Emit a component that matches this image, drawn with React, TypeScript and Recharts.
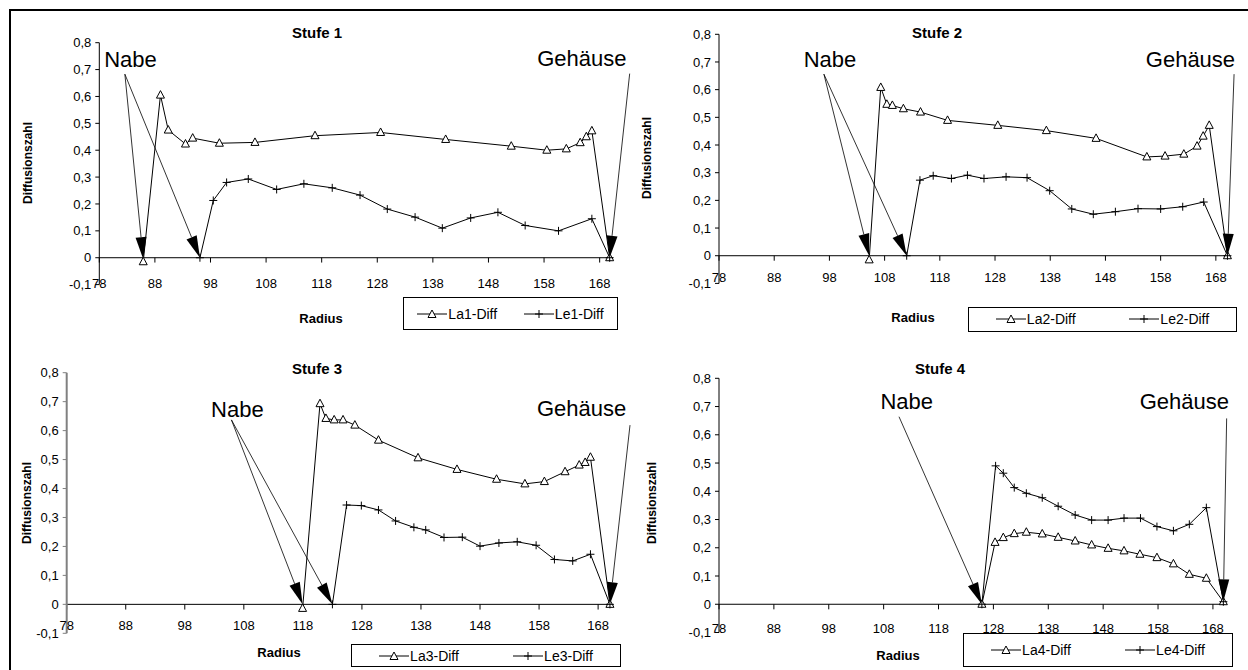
import { LineChart, Line, XAxis, YAxis, ReferenceLine, ReferenceDot, Legend } from 'recharts';

const radiusTicks = [78, 88, 98, 108, 118, 128, 138, 148, 158, 168];
const diffTicks = [-0.1, 0, 0.1, 0.2, 0.3, 0.4, 0.5, 0.6, 0.7, 0.8];

// Stufe 1
const la1Radius = [85.9, 89.0, 90.4, 93.5, 94.8, 99.6, 106.0, 116.8, 128.6, 140.3, 152.1, 158.5, 162.0, 164.5, 165.6, 166.6, 169.8];
const la1Diff = [-0.015, 0.605, 0.475, 0.423, 0.445, 0.426, 0.429, 0.454, 0.466, 0.44, 0.415, 0.4, 0.405, 0.428, 0.45, 0.472, 0];
const le1Radius = [96.1, 98.5, 100.9, 104.8, 109.9, 114.8, 119.9, 124.9, 129.8, 134.8, 139.7, 144.8, 149.7, 154.6, 160.6, 166.6, 169.8];
const le1Diff = [0, 0.213, 0.28, 0.293, 0.254, 0.275, 0.26, 0.233, 0.181, 0.151, 0.11, 0.148, 0.169, 0.12, 0.1, 0.145, 0];

// Stufe 2
const la2Radius = [105.2, 107.3, 108.4, 109.4, 111.4, 114.5, 119.4, 128.5, 137.3, 146.3, 155.5, 158.8, 162.2, 164.6, 165.7, 166.8, 170.1];
const la2Diff = [-0.015, 0.608, 0.547, 0.543, 0.531, 0.519, 0.489, 0.471, 0.452, 0.424, 0.357, 0.36, 0.367, 0.396, 0.432, 0.471, 0];
const le2Radius = [112.0, 114.4, 116.8, 120.1, 123.0, 126.0, 130.0, 133.8, 137.9, 141.9, 145.8, 149.8, 153.9, 158.0, 162.0, 165.8, 170.1];
const le2Diff = [0, 0.273, 0.289, 0.279, 0.291, 0.279, 0.285, 0.282, 0.235, 0.169, 0.15, 0.159, 0.17, 0.169, 0.177, 0.194, 0];

// Stufe 3
const la3Radius = [117.95, 120.9, 121.9, 123.3, 124.8, 126.8, 130.8, 137.5, 144.1, 150.8, 155.6, 158.9, 162.4, 164.8, 165.8, 166.7, 170.0];
const la3Diff = [-0.014, 0.693, 0.642, 0.637, 0.637, 0.619, 0.567, 0.506, 0.466, 0.432, 0.416, 0.424, 0.458, 0.481, 0.49, 0.508, 0];
const le3Radius = [123.0, 125.4, 127.9, 130.8, 133.7, 136.8, 138.8, 141.9, 145.0, 148.0, 151.2, 154.3, 157.5, 160.6, 163.7, 166.7, 170.0];
const le3Diff = [0, 0.343, 0.341, 0.326, 0.288, 0.266, 0.257, 0.231, 0.232, 0.201, 0.212, 0.216, 0.204, 0.155, 0.15, 0.173, 0];

// Stufe 4
const la4Radius = [125.9, 128.3, 129.8, 131.8, 134.0, 136.9, 139.8, 142.9, 145.9, 148.9, 151.8, 154.7, 157.8, 160.8, 163.7, 166.8, 169.9];
const la4Diff = [0, 0.219, 0.236, 0.25, 0.255, 0.249, 0.237, 0.224, 0.21, 0.198, 0.189, 0.177, 0.165, 0.143, 0.106, 0.092, 0.009];
const le4Radius = [125.9, 128.4, 129.8, 131.8, 134.0, 136.9, 139.8, 142.9, 145.9, 148.9, 151.8, 154.8, 157.8, 160.8, 163.7, 166.8, 169.9];
const le4Diff = [0, 0.49, 0.464, 0.413, 0.393, 0.377, 0.347, 0.316, 0.298, 0.298, 0.305, 0.305, 0.275, 0.26, 0.283, 0.342, 0.009];

const FONT = '"Liberation Sans", Arial, sans-serif';
const Y_AXIS_W = 45;
const X_AXIS_H = 20;

const toPoints = (xs: number[], ys: number[]) => xs.map((x, i) => ({ x, y: ys[i] }));

const fmtDiff = (v: number) => (v === 0 ? '0' : v.toFixed(1).replace('.', ','));

function triangleDot(p: any) {
  const { cx, cy, index } = p;
  if (cx == null || cy == null) return <g key={`t${index}`} />;
  return (
    <polygon
      key={`t${index}`}
      points={`${cx},${cy - 4.5} ${cx - 4},${cy + 3} ${cx + 4},${cy + 3}`}
      fill="#fff"
      stroke="#000"
      strokeWidth={1}
    />
  );
}

function plusDot(p: any) {
  const { cx, cy, index } = p;
  if (cx == null || cy == null) return <g key={`p${index}`} />;
  return (
    <path key={`p${index}`} d={`M${cx - 4},${cy}H${cx + 4}M${cx},${cy - 4}V${cy + 4}`} stroke="#000" strokeWidth={1} />
  );
}

function arrowShape(props: any) {
  const { x1, y1, x2, y2 } = props;
  const dx = x2 - x1;
  const dy = y2 - y1;
  const len = Math.hypot(dx, dy) || 1;
  const ux = dx / len;
  const uy = dy / len;
  const bx = x2 - ux * 22;
  const by = y2 - uy * 22;
  const px = -uy * 5.5;
  const py = ux * 5.5;
  return (
    <g>
      <line x1={x1} y1={y1} x2={bx} y2={by} stroke="#000" strokeWidth={0.8} />
      <polygon points={`${x2},${y2} ${bx + px},${by + py} ${bx - px},${by - py}`} fill="#000" />
    </g>
  );
}

const textShape = (txt: string) => (p: any) => (
  <text x={p.cx} y={p.cy} textAnchor="middle" dy="0.35em" fontSize={22} fontFamily={FONT} fill="#000">
    {txt}
  </text>
);

const xTick = (off: number) => (p: any) => (
  <text x={p.x} y={p.y + off} dy="0.35em" textAnchor="middle" fontSize={13} fontFamily={FONT} fill="#000">
    {p.payload.value}
  </text>
);

function LegendSymbol({ marker }: { marker: 'tri' | 'plus' }) {
  return (
    <svg width={30} height={12} style={{ display: 'block' }}>
      <line x1={0} y1={6} x2={30} y2={6} stroke="#000" strokeWidth={1} />
      {marker === 'tri' ? triangleDot({ cx: 15, cy: 6.5, index: 0 }) : plusDot({ cx: 15, cy: 6, index: 0 })}
    </svg>
  );
}

type Arrow = { from: [number, number]; to: [number, number] };
type Note = { text: string; at: [number, number]; arrows: Arrow[] };

type PanelDef = {
  title: string;
  la: { name: string; xs: number[]; ys: number[] };
  le: { name: string; xs: number[]; ys: number[] };
  box: { left: number; top: number; width: number; height: number };
  plot: { left: number; top: number; right: number; bottom: number };
  xMax: number;
  tickOff: number;
  yAxisColor: string;
  yAxisWidth: number;
  notes: Note[];
  titlePos: [number, number];
  yLabelPos: [number, number];
  xLabelPos: [number, number];
  legend: { left: number; top: number; width: number; height: number };
};

const panels: PanelDef[] = [
  {
    title: 'Stufe 1',
    la: { name: 'La1-Diff', xs: la1Radius, ys: la1Diff },
    le: { name: 'Le1-Diff', xs: le1Radius, ys: le1Diff },
    box: { left: 10, top: 10, width: 650, height: 325 },
    plot: { left: 99.3, top: 42.7, right: 613, bottom: 284.6 },
    xMax: 170.4,
    tickOff: -1.3,
    yAxisColor: '#000',
    yAxisWidth: 1,
    notes: [
      { text: 'Nabe', at: [83.6, 0.738], arrows: [{ from: [82.6, 0.683], to: [85.9, -0.005] }, { from: [82.6, 0.683], to: [96.1, 0] }] },
      { text: 'Gehäuse', at: [164.8, 0.742], arrows: [{ from: [173.4, 0.685], to: [169.8, 0] }] },
    ],
    titlePos: [317, 32],
    yLabelPos: [28, 163],
    xLabelPos: [321, 318],
    legend: { left: 403, top: 297, width: 215, height: 33 },
  },
  {
    title: 'Stufe 2',
    la: { name: 'La2-Diff', xs: la2Radius, ys: la2Diff },
    le: { name: 'Le2-Diff', xs: le2Radius, ys: le2Diff },
    box: { left: 624, top: 10, width: 624, height: 325 },
    plot: { left: 719, top: 34.3, right: 1228, bottom: 283.4 },
    xMax: 170.2,
    tickOff: -6.1,
    yAxisColor: '#000',
    yAxisWidth: 1,
    notes: [
      { text: 'Nabe', at: [98.1, 0.71], arrows: [{ from: [97.0, 0.656], to: [105.2, 0] }, { from: [97.0, 0.656], to: [112.0, 0] }] },
      { text: 'Gehäuse', at: [163.4, 0.711], arrows: [{ from: [171.3, 0.656], to: [170.1, 0] }] },
    ],
    titlePos: [937, 32],
    yLabelPos: [647, 158],
    xLabelPos: [913, 317],
    legend: { left: 968, top: 306.5, width: 269, height: 25 },
  },
  {
    title: 'Stufe 3',
    la: { name: 'La3-Diff', xs: la3Radius, ys: la3Diff },
    le: { name: 'Le3-Diff', xs: le3Radius, ys: le3Diff },
    box: { left: 10, top: 335, width: 650, height: 335 },
    plot: { left: 66.7, top: 372.7, right: 611.7, bottom: 633.3 },
    xMax: 170.3,
    tickOff: -8.3,
    yAxisColor: '#808080',
    yAxisWidth: 2,
    notes: [
      { text: 'Nabe', at: [106.9, 0.675], arrows: [{ from: [105.9, 0.637], to: [117.95, 0] }, { from: [105.9, 0.637], to: [123.0, 0] }] },
      { text: 'Gehäuse', at: [165.2, 0.676], arrows: [{ from: [173.4, 0.619], to: [170.0, 0] }] },
    ],
    titlePos: [317, 368],
    yLabelPos: [27, 502.5],
    xLabelPos: [279, 652],
    legend: { left: 351, top: 644, width: 270, height: 23 },
  },
  {
    title: 'Stufe 4',
    la: { name: 'La4-Diff', xs: la4Radius, ys: la4Diff },
    le: { name: 'Le4-Diff', xs: le4Radius, ys: le4Diff },
    box: { left: 624, top: 335, width: 624, height: 335 },
    plot: { left: 719, top: 378.3, right: 1225, bottom: 632.5 },
    xMax: 170.2,
    tickOff: -4.2,
    yAxisColor: '#000',
    yAxisWidth: 1,
    notes: [
      { text: 'Nabe', at: [112.2, 0.72], arrows: [{ from: [110.8, 0.664], to: [125.9, 0] }] },
      { text: 'Gehäuse', at: [162.8, 0.72], arrows: [{ from: [170.5, 0.658], to: [169.9, 0.01] }] },
    ],
    titlePos: [940, 368],
    yLabelPos: [652, 502.5],
    xLabelPos: [898, 655],
    legend: { left: 963, top: 633, width: 270, height: 34 },
  },
];

function TextAt({ pos, children, size, bold, rotate }: { pos: [number, number]; children: string; size: number; bold?: boolean; rotate?: boolean }) {
  return (
    <div
      style={{
        position: 'absolute',
        left: pos[0],
        top: pos[1],
        transform: `translate(-50%, -50%)${rotate ? ' rotate(-90deg)' : ''}`,
        whiteSpace: 'nowrap',
        fontSize: size,
        fontWeight: bold ? 'bold' : 'normal',
        fontFamily: FONT,
        lineHeight: 1,
        color: '#000',
      }}
    >
      {children}
    </div>
  );
}

function Panel({ d }: { d: PanelDef }) {
  const { box, plot } = d;
  const margin = {
    top: plot.top - box.top,
    left: plot.left - box.left - Y_AXIS_W,
    right: box.left + box.width - plot.right,
    bottom: box.top + box.height - plot.bottom - X_AXIS_H,
  };
  const laData = toPoints(d.la.xs, d.la.ys);
  const leData = toPoints(d.le.xs, d.le.ys);

  const renderLegend = () => (
    <div
      style={{
        boxSizing: 'border-box',
        width: '100%',
        height: '100%',
        border: '1px solid #000',
        background: '#fff',
        display: 'flex',
        alignItems: 'center',
        justifyContent: 'space-around',
        fontFamily: FONT,
        fontSize: 14,
        color: '#000',
      }}
    >
      {[
        { name: d.la.name, marker: 'tri' as const },
        { name: d.le.name, marker: 'plus' as const },
      ].map((it) => (
        <div key={it.name} style={{ display: 'flex', alignItems: 'center' }}>
          <LegendSymbol marker={it.marker} />
          <span style={{ marginLeft: 1 }}>{it.name}</span>
        </div>
      ))}
    </div>
  );

  return (
    <div style={{ position: 'absolute', left: box.left, top: box.top }}>
      <LineChart width={box.width} height={box.height} margin={margin}>
        <XAxis
          type="number"
          dataKey="x"
          domain={[78, d.xMax]}
          ticks={radiusTicks}
          interval={0}
          axisLine={false}
          tickLine={false}
          tickSize={0}
          tickMargin={0}
          height={X_AXIS_H}
          tick={xTick(d.tickOff)}
        />
        <YAxis
          type="number"
          domain={[-0.1, 0.8]}
          ticks={diffTicks}
          interval={0}
          width={Y_AXIS_W}
          tickSize={4}
          tickMargin={4}
          tickFormatter={fmtDiff}
          axisLine={{ stroke: d.yAxisColor, strokeWidth: d.yAxisWidth }}
          tickLine={{ stroke: d.yAxisColor }}
          tick={{ fill: '#000', fontSize: 13, fontFamily: FONT }}
        />
        <ReferenceLine y={0} stroke="#000" strokeWidth={1} ifOverflow="visible" />
        {radiusTicks.map((t) => (
          <ReferenceLine
            key={`tk${t}`}
            segment={[
              { x: t, y: 0 },
              { x: t, y: -0.018 },
            ]}
            stroke="#000"
            ifOverflow="visible"
          />
        ))}
        <Line
          data={laData}
          dataKey="y"
          name={d.la.name}
          stroke="#000"
          strokeWidth={1}
          dot={triangleDot}
          activeDot={false}
          isAnimationActive={false}
        />
        <Line
          data={leData}
          dataKey="y"
          name={d.le.name}
          stroke="#000"
          strokeWidth={1}
          dot={plusDot}
          activeDot={false}
          isAnimationActive={false}
        />
        {d.notes.map((n) =>
          n.arrows.map((a, i) => (
            <ReferenceLine
              key={`${n.text}-a${i}`}
              segment={[
                { x: a.from[0], y: a.from[1] },
                { x: a.to[0], y: a.to[1] },
              ]}
              ifOverflow="visible"
              shape={arrowShape}
            />
          ))
        )}
        {d.notes.map((n) => (
          <ReferenceDot key={`${n.text}-t`} x={n.at[0]} y={n.at[1]} r={0} ifOverflow="visible" shape={textShape(n.text)} />
        ))}
        <Legend
          layout="horizontal"
          verticalAlign="middle"
          align="center"
          content={renderLegend}
          wrapperStyle={{
            left: d.legend.left - box.left,
            top: d.legend.top - box.top,
            width: d.legend.width,
            height: d.legend.height,
          }}
        />
      </LineChart>
    </div>
  );
}

export default function App() {
  return (
    <div
      style={{
        position: 'absolute',
        left: 0,
        top: 0,
        width: 1248,
        height: 670,
        overflow: 'hidden',
        background: '#fff',
      }}
    >
      <div
        style={{
          position: 'absolute',
          left: 9,
          top: 9,
          width: 1260,
          height: 680,
          border: '2px solid #000',
          boxSizing: 'border-box',
        }}
      />
      {panels.map((p) => (
        <Panel key={p.title} d={p} />
      ))}
      {panels.map((p) => (
        <div key={`lbl-${p.title}`}>
          <TextAt pos={p.titlePos} size={15} bold>
            {p.title}
          </TextAt>
          <TextAt pos={p.yLabelPos} size={12} bold rotate>
            Diffusionszahl
          </TextAt>
          <TextAt pos={p.xLabelPos} size={13} bold>
            Radius
          </TextAt>
        </div>
      ))}
    </div>
  );
}
